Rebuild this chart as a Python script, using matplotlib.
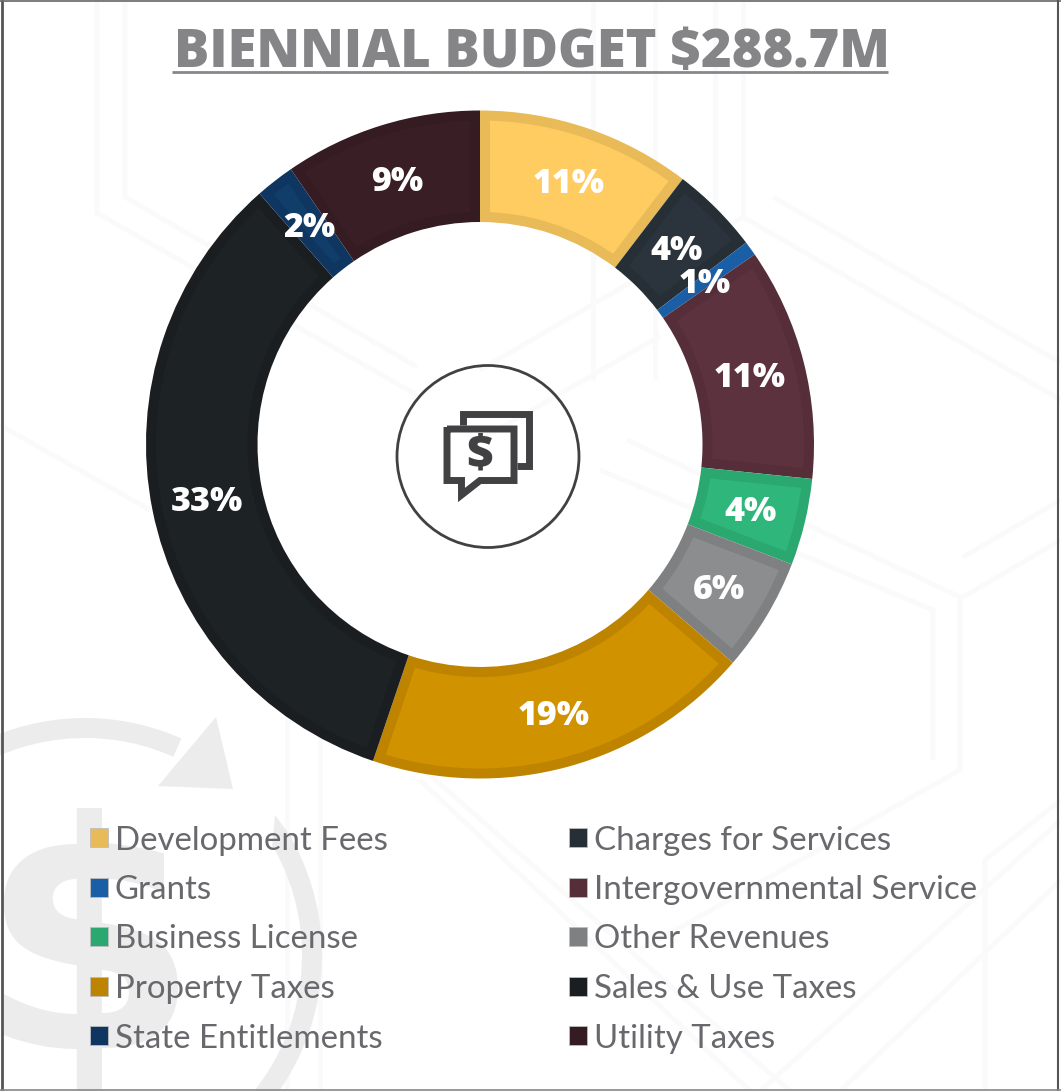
"""
Biennial budget donut chart with faint background artwork.
"""

import numpy as np
import matplotlib
matplotlib.use("Agg")
import matplotlib.pyplot as plt
from matplotlib.patches import Circle, Polygon, Rectangle, Wedge

W, H = 1061, 1091

TITLE      = "BIENNIAL BUDGET $288.7M"
CATEGORIES = ["Development Fees", "Charges for Services", "Grants",
              "Intergovernmental Service", "Business License", "Other Revenues",
              "Property Taxes", "Sales & Use Taxes", "State Entitlements",
              "Utility Taxes"]
SHARES     = [10.4, 4.3, 0.7, 11.3, 4.2, 5.5, 18.9, 33.4, 1.9, 9.6]
LABELS     = ["11%", "4%", "1%", "11%", "4%", "6%", "19%", "33%", "2%", "9%"]
FILLS      = ["#FFCC62", "#2B343C", "#1A5FA5", "#5D323F", "#2FB67B",
              "#8C8D8E", "#D19200", "#1D2225", "#113D6B", "#3A1E26"]
BORDERS    = ["#E8BA58", "#272F36", "#1A5FA5", "#552E3A", "#2BA86F",
              "#7F8081", "#BE8400", "#1A1E21", "#0F3660", "#351B22"]

HEX_COLOR  = "#FAFAFA"
MARK_COLOR = "#ECECEC"
ICON_COLOR = "#414042"
TEXT_COLOR = "#68686D"


def Y(y):
    # picture rows count downward, the axes count upward
    return H - y


def line(ax, xs, ys, **kw):
    kw.setdefault("solid_joinstyle", "miter")
    kw.setdefault("solid_capstyle", "butt")
    ax.plot(xs, [Y(v) for v in ys], **kw)


def inset_ring(w, cx, cy, r_out, r_in, b):
    # outline of a ring wedge pulled in by b pixels on all four sides
    ro, ri = r_out - b, r_in + b
    o = np.rad2deg(b / ro)
    i = np.rad2deg(b / ri)
    outer = np.linspace(w.theta1 + o, w.theta2 - o, 60)
    inner = np.linspace(w.theta2 - i, w.theta1 + i, 60)
    pts = [(cx + ro * np.cos(np.deg2rad(a)), cy + ro * np.sin(np.deg2rad(a))) for a in outer]
    pts += [(cx + ri * np.cos(np.deg2rad(a)), cy + ri * np.sin(np.deg2rad(a))) for a in inner]
    return pts


fig = plt.figure(figsize=(W / 100, H / 100), dpi=100)
ax = fig.add_axes([0, 0, 1, 1])
ax.set_axis_off()

# ── Background hexagon lines ──────────────────────────────────────────────────
hex_paths = [
    ([97, 97, 417], [0, 213, 395]),
    ([125, 125, 417], [0, 197, 367]),
    ([0, 150], [425, 510]),
    ([773, 1061], [197, 363]),
    ([480, 743, 1061], [370, 217, 400]),
    ([480, 622, 660], [440, 358, 336]),
    ([593, 593], [0, 380]),
    ([655, 655], [0, 380]),
    ([715, 715], [0, 230]),
    ([743, 743], [0, 217]),
    ([627, 960, 960, 640], [440, 597, 770, 950]),
    ([600, 933, 933], [470, 610, 760]),
    ([963, 1061], [597, 540]),
    ([963, 1061], [557, 500]),
    ([287, 287], [700, 1091]),
    ([320, 320], [700, 1091]),
    ([333, 790], [690, 1091]),
    ([420, 750], [780, 1091]),
    ([760, 1061], [1091, 820]),
    ([840, 1061], [1091, 880]),
    ([985, 985, 1061], [1091, 860, 800]),
]
for xs, ys in hex_paths:
    line(ax, xs, ys, color=HEX_COLOR, linewidth=3.5, zorder=1)

# ── Faint dollar with arrow ring, bottom left ─────────────────────────────────
ring = dict(center=(85, Y(955)), r=237, width=20, facecolor=MARK_COLOR,
            edgecolor="none", zorder=1)
ax.add_patch(Wedge(theta1=66, theta2=113, **ring))
ax.add_patch(Wedge(theta1=-45, theta2=30, **ring))
ax.add_patch(Polygon([(216, Y(717)), (233, Y(789)), (158, Y(786))],
                     facecolor=MARK_COLOR, edgecolor="none", zorder=1))
ax.add_patch(Polygon([(275, Y(815)), (292, Y(838)), (272, Y(848))],
                     facecolor=MARK_COLOR, edgecolor="none", zorder=1))
ax.text(88, Y(962), "$", fontsize=228, fontfamily="DejaVu Sans", fontweight="bold",
        color=MARK_COLOR, ha="center", va="center", zorder=1)

# ── Donut ─────────────────────────────────────────────────────────────────────
CX, CY, R_OUT, R_IN = 480, 444.5, 334, 222.5
BORDER_W = 10

wedges, _ = ax.pie(SHARES, colors=BORDERS, startangle=90, counterclock=False,
                   center=(CX, Y(CY)), radius=R_OUT, frame=True,
                   wedgeprops=dict(width=R_OUT - R_IN, linewidth=0))
for w, fill, label in zip(wedges, FILLS, LABELS):
    w.set_zorder(2)
    # the sliver is too thin to have a lighter centre
    if (w.theta2 - w.theta1) > 3:
        ax.add_patch(Polygon(inset_ring(w, CX, Y(CY), R_OUT, R_IN, BORDER_W),
                             facecolor=fill, edgecolor="none", zorder=3))
    mid = np.deg2rad((w.theta1 + w.theta2) / 2)
    ax.text(CX + 278 * np.cos(mid), Y(CY) + 1 + 278 * np.sin(mid), label,
            fontsize=24.5, fontfamily="Open Sans", fontweight=800, color="white",
            ha="center", va="center_baseline", zorder=5)

# ── Centre icon ───────────────────────────────────────────────────────────────
ax.add_patch(Circle((488, Y(456.5)), 91, facecolor="none", edgecolor=ICON_COLOR,
                    linewidth=2, zorder=3))
line(ax, [462.5, 462.5, 528.5, 528.5, 517], [425, 414, 414, 466, 466],
     color=ICON_COLOR, linewidth=5, zorder=3)
line(ax, [447, 514, 514, 480, 461.5, 461.5, 447, 447],
     [429, 429, 480.5, 480.5, 495, 480.5, 480.5, 427],
     color=ICON_COLOR, linewidth=5, zorder=3)
ax.text(480, Y(456), "$", fontsize=33, fontfamily="Open Sans", fontweight=800,
        color=ICON_COLOR, ha="center", va="center", zorder=3)

# ── Title ─────────────────────────────────────────────────────────────────────
ax.text(174, Y(67.3), TITLE, fontsize=37.8, fontfamily="Open Sans", fontweight=800,
        color="#858487", ha="left", va="baseline", zorder=5)
line(ax, [172, 888], [71.7, 71.7], color="#87868A", linewidth=2, zorder=5)

# ── Legend ────────────────────────────────────────────────────────────────────
for i, (name, edge) in enumerate(zip(CATEGORIES, BORDERS)):
    col, row = i % 2, i // 2
    x0 = 90 if col == 0 else 569
    yc = 837.5 + row * 49.5
    ax.add_patch(Rectangle((x0, Y(yc + 9.5)), 18, 19, facecolor=edge,
                           edgecolor="#BDBDBD", linewidth=0.6, zorder=4))
    ax.text(x0 + (25 if col == 0 else 25.5), Y(yc), name, fontsize=23.8, fontfamily="Lato",
            fontweight="normal", color=TEXT_COLOR, ha="left", va="center_baseline",
            zorder=5)

# ── Frame ─────────────────────────────────────────────────────────────────────
line(ax, [1.5, 1.5], [0, 1091], color="#555555", linewidth=2, zorder=6)
line(ax, [0, 1061], [0.8, 0.8], color="#666666", linewidth=1.2, zorder=6)
line(ax, [1058, 1058], [0, 1091], color="#555555", linewidth=1.5, zorder=6)
line(ax, [0, 1061], [1089.5, 1089.5], color="#888888", linewidth=1.2, zorder=6)

ax.set_xlim(0, W)
ax.set_ylim(0, H)
ax.set_aspect("auto")

fig.savefig("out.png", dpi=100)
